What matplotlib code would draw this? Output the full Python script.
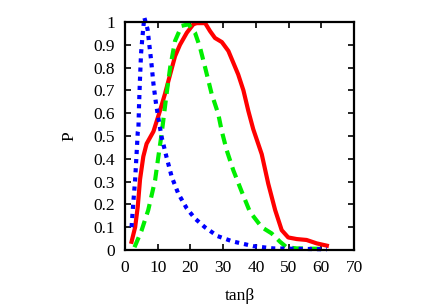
"""
Probability distributions P versus tan(beta)
"""
import numpy as np
import matplotlib
matplotlib.use('Agg')
import matplotlib.pyplot as plt

# red solid curve
tb_red = [2.0, 3.1, 3.9, 4.6, 5.6, 6.6, 8.7, 10.7, 12.2, 13.8, 15.3, 16.8, 18.9, 20.9,
          21.9, 24.5, 26.0, 27.5, 29.6, 31.6, 34.6, 36.2, 37.7, 39.2, 41.8, 43.8, 45.9,
          47.9, 49.9, 52.5, 55.5, 58.6, 61.7]
P_red = [0.036, 0.10, 0.19, 0.31, 0.41, 0.466, 0.52, 0.611, 0.684, 0.77, 0.85, 0.90,
         0.953, 0.99, 0.995, 0.995, 0.96, 0.93, 0.912, 0.873, 0.77, 0.70, 0.61, 0.53,
         0.42, 0.29, 0.175, 0.087, 0.055, 0.048, 0.044, 0.029, 0.019]

# green dashed curve
tb_green = [2.9, 5.1, 7.1, 9.2, 10.2, 11.2, 11.7, 12.7, 13.8, 15.3, 17.3, 19.4, 21.4,
            22.9, 24.5, 26.5, 28.5, 29.6, 31.1, 33.1, 35.7, 38.2, 41.8, 44.8, 47.4,
            49.4, 52.5, 60.6]
P_green = [0.012, 0.087, 0.175, 0.306, 0.41, 0.51, 0.568, 0.684, 0.80, 0.917, 0.983,
           0.99, 0.953, 0.89, 0.80, 0.684, 0.597, 0.52, 0.437, 0.35, 0.255, 0.167, 0.10,
           0.073, 0.036, 0.012, 0.007, 0.005]

# blue dotted curve
tb_blue = [2.0, 2.5, 3.1, 3.6, 3.9, 4.1, 4.3, 4.6, 4.9, 5.3, 5.9, 6.9, 7.3, 8.0, 8.7,
           9.5, 10.5, 11.2, 12.7, 14.3, 16.3, 18.9, 21.4, 24.5, 28.3, 32.8, 39.2, 45.3,
           61.7]
P_blue = [0.10, 0.20, 0.31, 0.437, 0.517, 0.53, 0.64, 0.757, 0.86, 0.93, 1.02, 0.968,
          0.917, 0.83, 0.728, 0.64, 0.553, 0.495, 0.407, 0.32, 0.247, 0.182, 0.138,
          0.099, 0.061, 0.038, 0.017, 0.007, 0.003]

plt.rcParams['font.family'] = ['Liberation Serif', 'DejaVu Serif']

fig = plt.figure(figsize=(4.36, 3.05), dpi=100)
ax = fig.add_axes([125 / 436, 1 - 250 / 305, 229 / 436, 228 / 305])

ax.plot(tb_red, P_red, color='#ff0000', lw=3.0, solid_joinstyle='round')
ax.plot(tb_green, P_green, color='#00ee00', lw=3.0, dashes=(2.6, 1.6))
ax.plot(tb_blue, P_blue, color='#0000ff', lw=3.0, dashes=(1.0, 1.2), clip_on=False)

ax.set_xlim(0, 70)
ax.set_ylim(0, 1)
ax.set_xticks(np.arange(0, 71, 10))
ax.set_yticks(np.arange(0, 1.01, 0.1))
ax.set_yticklabels(['0', '0.1', '0.2', '0.3', '0.4', '0.5', '0.6', '0.7', '0.8', '0.9', '1'])
ax.tick_params(direction='in', top=True, right=True, length=4, width=1.2,
               labelsize=12.5, pad=7)
for s in ax.spines.values():
    s.set_linewidth(1.6)

ax.set_xlabel('tanβ', fontsize=12.5, labelpad=9)
ax.set_ylabel('P', fontsize=12.5, labelpad=12)

plt.savefig('out.png', dpi=100)
